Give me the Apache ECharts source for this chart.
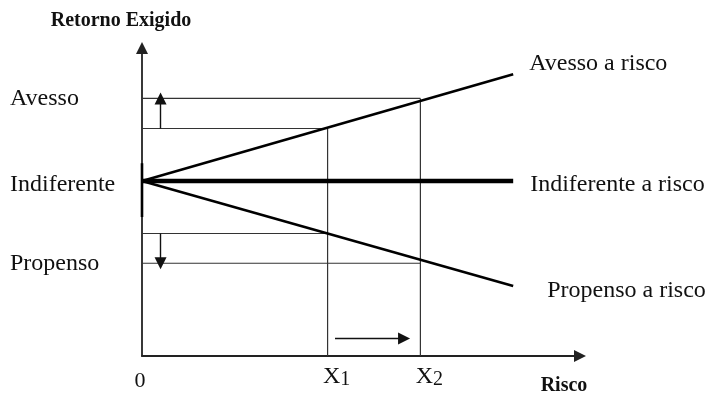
<!DOCTYPE html>
<html>
<head>
<meta charset="utf-8">
<script src="https://cdn.jsdelivr.net/npm/echarts@6/dist/echarts.min.js"></script>
<style>
  html, body { margin: 0; padding: 0; background: #fff; }
  #chart { width: 710px; height: 396px; }
</style>
</head>
<body>
<div id="chart"></div>
<script>
// Risk attitudes: required return as a function of risk
const seriesNames = ['Avesso a risco', 'Indiferente a risco', 'Propenso a risco'];
const avessoLine = [[0, 5], [10, 8.05]];
const indiferenteLine = [[0, 5], [10, 5]];
const propensoLine = [[0, 5], [10, 2.0]];

// guide lines from the axis to the two risk levels X1 and X2
const guideHorizontal = [
  [[0, 7.36], [7.5, 7.36]],
  [[0, 6.5], [5, 6.5]],
  [[0, 3.5], [5, 3.5]],
  [[0, 2.65], [7.5, 2.65]]
];
const guideVertical = [
  [[5, 0], [5, 6.5]],
  [[7.5, 0], [7.5, 7.36]]
];
const axisSegment = [[0, 3.97], [0, 5.51]];

// arrows: return going up, return going down, risk increasing
const arrowSegments = [
  [[0.5, 6.5], [0.5, 7.36]],
  [[0.5, 3.5], [0.5, 2.65]],
  [[5.2, 0.5], [7.06, 0.5]]
];

const xTickValues = [0, 5, 7.5];
const xTickLabels = ['0', 'X1', 'X2'];
const yTickValues = [2.65, 5, 7.36];
const yTickLabels = ['Propenso', 'Indiferente', 'Avesso'];

const serif = '"Liberation Serif", "Times New Roman", serif';
const ink = '#111';

const chart = echarts.init(document.getElementById('chart'), null, { renderer: 'canvas' });

function thinSeries(seg) {
  return {
    type: 'line', data: seg, showSymbol: false, silent: true,
    lineStyle: { color: '#333', width: 1.2 }, z: 2, animation: false
  };
}

function mainSeries(name, data, width, labelDist, labelOffset) {
  return {
    name: name, type: 'line', data: data, showSymbol: false, silent: true,
    lineStyle: { color: '#000', width: width, cap: 'butt' }, z: 4, animation: false,
    endLabel: {
      show: true, formatter: name, distance: labelDist, offset: labelOffset,
      fontFamily: serif, fontSize: 24, color: ink
    }
  };
}

const series = [];
guideHorizontal.forEach(s => series.push(thinSeries(s)));
guideVertical.forEach(s => series.push(thinSeries(s)));
series.push({
  type: 'line', data: axisSegment, showSymbol: false, silent: true,
  lineStyle: { color: '#000', width: 2.6 }, z: 3, animation: false
});
series.push(mainSeries(seriesNames[0], avessoLine, 2.6, 16, [0, -11]));
series.push(mainSeries(seriesNames[1], indiferenteLine, 4.6, 17, [0, 4]));
series.push(mainSeries(seriesNames[2], propensoLine, 2.6, 34, [0, 5]));
series.push({
  type: 'lines', coordinateSystem: 'cartesian2d', silent: true, animation: false,
  symbol: ['none', 'triangle'], symbolSize: 12,
  lineStyle: { color: '#111', width: 1.4, opacity: 1, curveness: 0 },
  data: arrowSegments.map(s => ({ coords: s })), z: 5
});

chart.setOption({
  animation: false,
  backgroundColor: '#fff',
  grid: { left: 142, right: 130, top: 48, bottom: 40, containLabel: false },
  xAxis: {
    type: 'value', min: 0, max: 11.8,
    name: 'Risco', nameLocation: 'end', nameGap: -16,
    nameTextStyle: {
      fontFamily: serif, fontWeight: 'bold', fontSize: 20, color: ink,
      align: 'center', verticalAlign: 'top', padding: [20, 0, 0, 0]
    },
    axisLine: {
      show: true, onZero: false, symbol: ['none', 'triangle'], symbolSize: [12, 12],
      lineStyle: { color: '#222', width: 1.8 }
    },
    axisTick: { show: false },
    splitLine: { show: false },
    axisLabel: {
      customValues: xTickValues, margin: 8, color: ink,
      formatter: function (v) {
        const t = xTickLabels[xTickValues.indexOf(v)];
        if (t === undefined) return '';
        if (t.length === 1) return '{n|' + t + '}';
        return '{x|' + t[0] + '}{s|' + t.slice(1) + '}';
      },
      rich: {
        n: { fontFamily: serif, fontSize: 22, color: ink, padding: [6, 4, 0, 0] },
        x: { fontFamily: serif, fontSize: 24, color: ink, padding: [0, 0, 0, 18] },
        s: { fontFamily: serif, fontSize: 20, color: ink, padding: [6, 0, 0, 0] }
      }
    }
  },
  yAxis: {
    type: 'value', min: 0, max: 8.8,
    name: 'Retorno Exigido', nameLocation: 'end', nameGap: 17,
    nameTextStyle: {
      fontFamily: serif, fontWeight: 'bold', fontSize: 20, color: ink,
      padding: [0, 42, 0, 0]
    },
    axisLine: {
      show: true, onZero: false, symbol: ['none', 'triangle'], symbolSize: [12, 12],
      lineStyle: { color: '#222', width: 1.8 }
    },
    axisTick: { show: false },
    splitLine: { show: false },
    axisLabel: {
      customValues: yTickValues, margin: 132, align: 'left', color: ink,
      formatter: function (v) {
        const i = yTickValues.indexOf(v);
        if (i < 0) return '';
        return (v === 5 ? '{d|' : '{t|') + yTickLabels[i] + '}';
      },
      rich: {
        t: { fontFamily: serif, fontSize: 24, color: ink },
        d: { fontFamily: serif, fontSize: 24, color: ink, padding: [8, 0, 0, 0] }
      }
    }
  },
  series: series
});
</script>
</body>
</html>
